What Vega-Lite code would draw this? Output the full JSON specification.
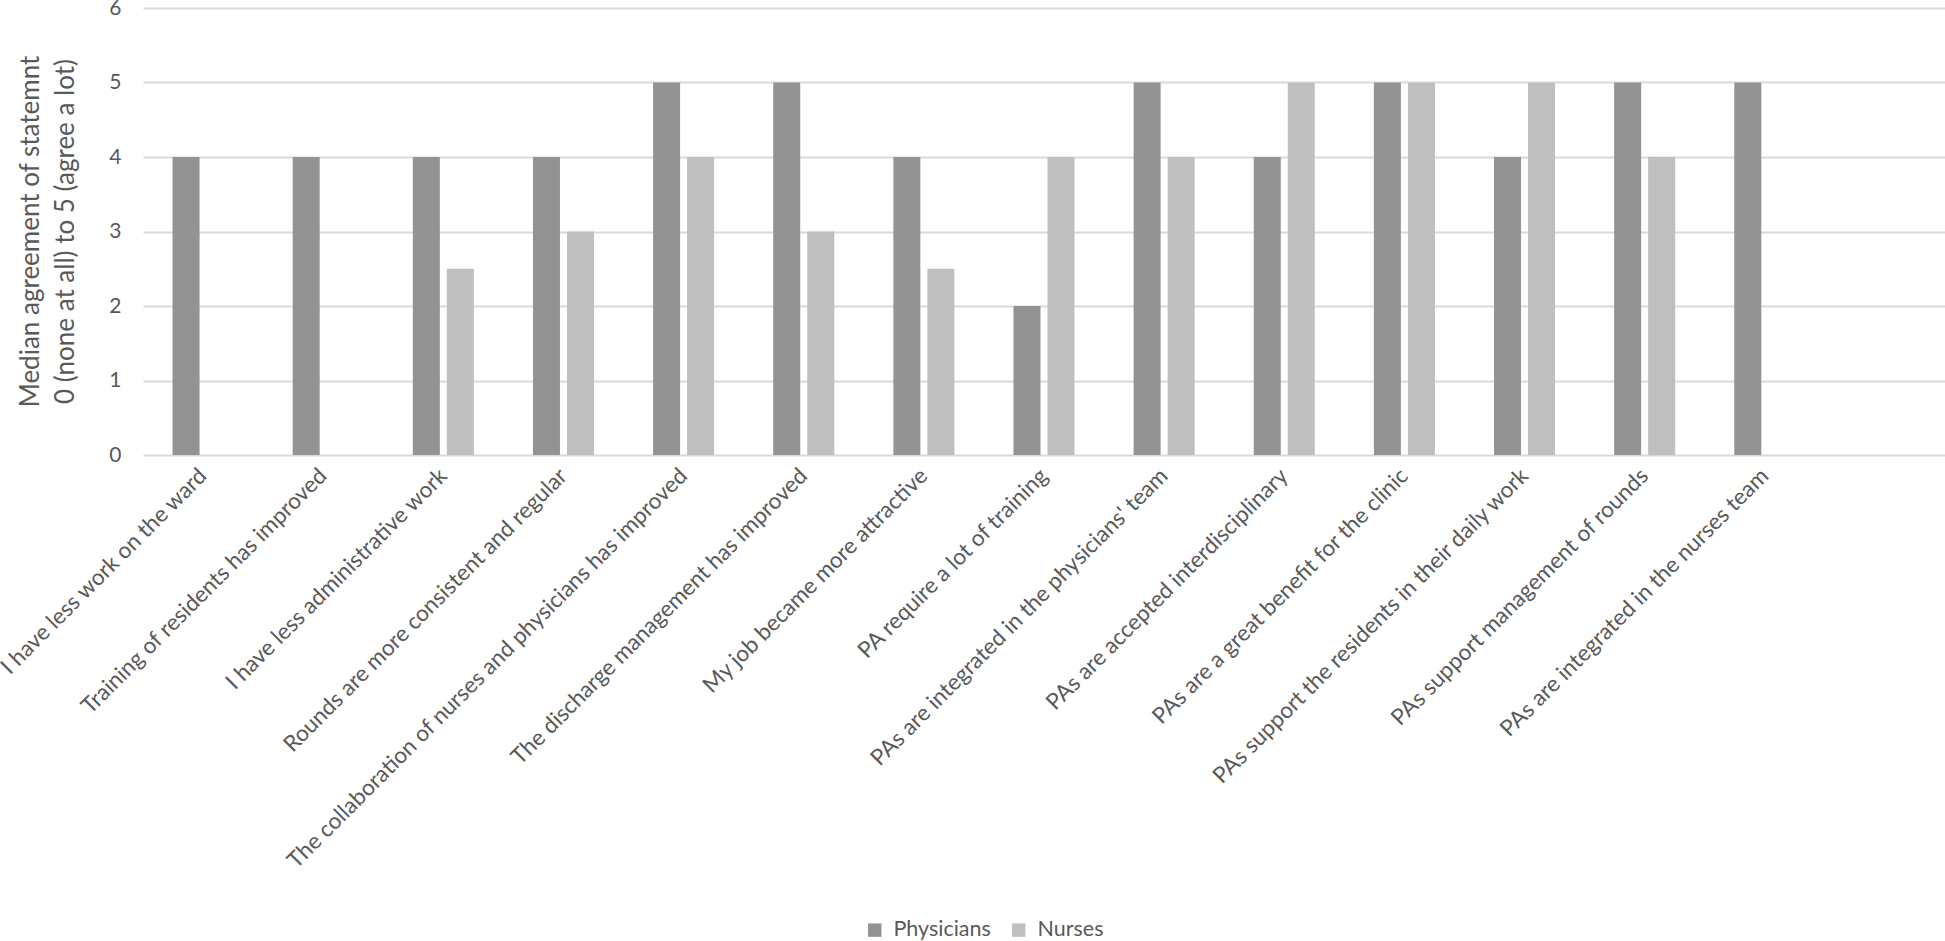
{
  "$schema": "https://vega.github.io/schema/vega-lite/v6.json",
  "autosize": {"type": "none"},
  "padding": {"left": 143, "top": 8, "right": 0, "bottom": 486},
  "width": 1802,
  "height": 447,
  "background": "white",
  "data": {
    "values": [
      {"statement": "I have less work on the ward", "group": "Physicians", "median": 4},
      {"statement": "Training of residents has improved", "group": "Physicians", "median": 4},
      {"statement": "I have less administrative work", "group": "Physicians", "median": 4},
      {"statement": "I have less administrative work", "group": "Nurses", "median": 2.5},
      {"statement": "Rounds are more consistent and regular", "group": "Physicians", "median": 4},
      {"statement": "Rounds are more consistent and regular", "group": "Nurses", "median": 3},
      {"statement": "The collaboration of nurses and physicians has improved", "group": "Physicians", "median": 5},
      {"statement": "The collaboration of nurses and physicians has improved", "group": "Nurses", "median": 4},
      {"statement": "The discharge management has improved", "group": "Physicians", "median": 5},
      {"statement": "The discharge management has improved", "group": "Nurses", "median": 3},
      {"statement": "My job became more attractive", "group": "Physicians", "median": 4},
      {"statement": "My job became more attractive", "group": "Nurses", "median": 2.5},
      {"statement": "PA require a lot of training", "group": "Physicians", "median": 2},
      {"statement": "PA require a lot of training", "group": "Nurses", "median": 4},
      {"statement": "PAs are integrated in the physicians' team", "group": "Physicians", "median": 5},
      {"statement": "PAs are integrated in the physicians' team", "group": "Nurses", "median": 4},
      {"statement": "PAs are accepted interdisciplinary", "group": "Physicians", "median": 4},
      {"statement": "PAs are accepted interdisciplinary", "group": "Nurses", "median": 5},
      {"statement": "PAs are a great benefit for the clinic", "group": "Physicians", "median": 5},
      {"statement": "PAs are a great benefit for the clinic", "group": "Nurses", "median": 5},
      {"statement": "PAs support the residents in their daily work", "group": "Physicians", "median": 4},
      {"statement": "PAs support the residents in their daily work", "group": "Nurses", "median": 5},
      {"statement": "PAs support management of rounds", "group": "Physicians", "median": 5},
      {"statement": "PAs support management of rounds", "group": "Nurses", "median": 4},
      {"statement": "PAs are integrated in the nurses team", "group": "Physicians", "median": 5}
    ]
  },
  "mark": {"type": "bar"},
  "encoding": {
    "x": {
      "field": "statement",
      "type": "nominal",
      "scale": {
        "domain": [
          "I have less work on the ward",
          "Training of residents has improved",
          "I have less administrative work",
          "Rounds are more consistent and regular",
          "The collaboration of nurses and physicians has improved",
          "The discharge management has improved",
          "My job became more attractive",
          "PA require a lot of training",
          "PAs are integrated in the physicians' team",
          "PAs are accepted interdisciplinary",
          "PAs are a great benefit for the clinic",
          "PAs support the residents in their daily work",
          "PAs support management of rounds",
          "PAs are integrated in the nurses team",
          " "
        ],
        "paddingInner": 0.492,
        "paddingOuter": 0.246
      },
      "axis": {
        "title": null,
        "labelAngle": -45,
        "labelAlign": "right",
        "labelBaseline": "middle",
        "labelPadding": 17,
        "labelFont": "Lato",
        "labelFontSize": 22.5,
        "labelColor": "#595959",
        "labelLimit": 1000,
        "labelOverlap": false,
        "ticks": false,
        "domain": false,
        "grid": false
      }
    },
    "xOffset": {
      "field": "group",
      "type": "nominal",
      "scale": {"domain": ["Physicians", "Nurses"], "paddingInner": 0.206, "paddingOuter": 0}
    },
    "y": {
      "field": "median",
      "type": "quantitative",
      "scale": {"domain": [0, 6], "nice": false},
      "axis": {
        "title": ["Median agreement of statemnt", "0 (none at all) to 5 (agree a lot)"],
        "titleFont": "Lato",
        "titleFontSize": 26,
        "titleFontWeight": "normal",
        "titleColor": "#595959",
        "titleLineHeight": 35,
        "titleX": -113,
        "titleY": 223,
        "titleAngle": -90,
        "titleAlign": "center",
        "titleBaseline": "middle",
        "values": [0, 1, 2, 3, 4, 5, 6],
        "format": "d",
        "labelFont": "Lato",
        "labelFontSize": 21,
        "labelColor": "#595959",
        "labelPadding": 22,
        "ticks": false,
        "domain": false,
        "grid": true,
        "gridColor": "#d9d9d9",
        "gridWidth": 2
      }
    },
    "color": {
      "field": "group",
      "type": "nominal",
      "scale": {"domain": ["Physicians", "Nurses"], "range": ["#939393", "#bfbfbf"]},
      "legend": {
        "title": null,
        "orient": "none",
        "direction": "horizontal",
        "legendX": 721,
        "legendY": 911,
        "symbolType": "square",
        "symbolSize": 180,
        "symbolStrokeWidth": 0,
        "labelFont": "Lato",
        "labelFontSize": 21.5,
        "labelColor": "#595959",
        "labelOffset": 8,
        "columnPadding": 17
      }
    }
  },
  "config": {"view": {"stroke": null}}
}
